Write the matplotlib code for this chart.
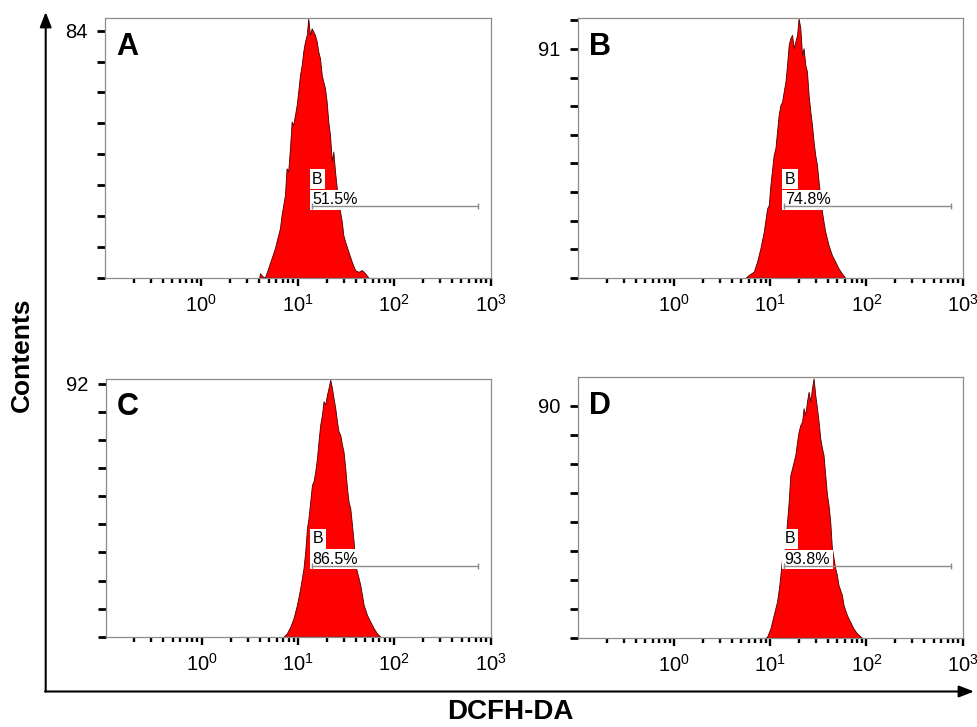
import numpy as np
import matplotlib
matplotlib.use('Agg')
import matplotlib.pyplot as plt
from matplotlib.ticker import FixedLocator, NullFormatter, FixedFormatter
import matplotlib.transforms as mtransforms

plt.rcParams['font.family'] = ['Liberation Sans', 'DejaVu Sans']
plt.rcParams['mathtext.fontset'] = 'custom'
plt.rcParams['mathtext.rm'] = 'Liberation Sans'
plt.rcParams['mathtext.it'] = 'Liberation Sans:italic'
plt.rcParams['mathtext.bf'] = 'Liberation Sans:bold'

# ---------------- data ----------------
panel_letters = ['A', 'B', 'C', 'D']
gate_name = 'B'
gate_pct = ['51.5%', '74.8%', '86.5%', '93.8%']
gate_range = [14, 750]
y_label_max = [84, 91, 92, 90]
y_divisions = [8, 8, 9, 8]
y_top = [88.2, 103.2, 93.8, 101.0]
x_tick_values = [1, 10, 100, 1000]
x_tick_labels = [r'$\mathregular{10^{0}}$', r'$\mathregular{10^{1}}$',
                 r'$\mathregular{10^{2}}$', r'$\mathregular{10^{3}}$']
x_label = 'DCFH-DA'
y_label = 'Contents'

# log10 fluorescence and event counts
logfl_A = [0.600, 0.607, 0.641, 0.659, 0.693, 0.728, 0.763, 0.780, 0.815, 0.832, 0.867, 0.884,
           0.901, 0.919, 0.937, 0.953, 0.971, 0.989, 1.005, 1.023, 1.041, 1.057, 1.075, 1.093,
           1.109, 1.127, 1.145, 1.161, 1.179, 1.197, 1.213, 1.231, 1.249, 1.265, 1.283, 1.300,
           1.317, 1.335, 1.353, 1.369, 1.387, 1.405, 1.439, 1.457, 1.473, 1.491, 1.526, 1.561,
           1.595, 1.630, 1.665, 1.699, 1.734]
count_A = [0.0, 1.5, 0.3, 0.0, 3.2, 6.6, 10.0, 12.3, 16.8, 21.3, 28.1, 37.2,
           36.1, 44.0, 53.1, 51.9, 55.3, 58.7, 63.3, 68.9, 72.3, 76.9, 80.3, 82.5,
           88.2, 82.5, 84.8, 83.7, 82.5, 80.3, 76.9, 74.6, 68.9, 66.7, 64.4, 59.9,
           53.1, 48.5, 39.5, 42.9, 36.1, 30.4, 22.5, 19.1, 14.5, 12.3, 8.8, 5.4,
           2.6, 2.0, 2.6, 1.5, 0.0]

logfl_B = [0.743, 0.777, 0.829, 0.864, 0.898, 0.933, 0.968, 0.985, 1.002, 1.036, 1.054, 1.071,
           1.088, 1.106, 1.123, 1.140, 1.158, 1.175, 1.192, 1.209, 1.227, 1.244, 1.261, 1.279,
           1.295, 1.313, 1.331, 1.347, 1.365, 1.382, 1.399, 1.417, 1.434, 1.451, 1.468, 1.486,
           1.503, 1.538, 1.554, 1.572, 1.606, 1.641, 1.676, 1.710, 1.745, 1.779]
count_B = [0.0, 1.1, 2.4, 6.4, 11.7, 18.3, 27.6, 28.9, 36.9, 48.8, 51.5, 58.1,
           64.8, 68.7, 70.0, 74.0, 78.0, 84.6, 92.6, 95.3, 96.6, 91.3, 93.9, 96.6,
           103.2, 99.3, 88.6, 91.3, 84.6, 82.0, 72.7, 66.1, 60.8, 54.1, 48.8, 44.9,
           38.2, 26.3, 22.3, 18.3, 13.0, 9.0, 6.4, 3.7, 1.7, 0.0]

logfl_C = [0.849, 0.884, 0.919, 0.953, 0.989, 1.023, 1.057, 1.075, 1.093, 1.109, 1.127, 1.145,
           1.161, 1.179, 1.197, 1.213, 1.231, 1.249, 1.265, 1.283, 1.301, 1.317, 1.335, 1.353,
           1.369, 1.387, 1.405, 1.421, 1.439, 1.457, 1.473, 1.491, 1.509, 1.525, 1.543, 1.561,
           1.578, 1.595, 1.630, 1.647, 1.665, 1.682, 1.717, 1.751, 1.786, 1.821, 1.855]
count_C = [0.0, 1.2, 3.6, 6.7, 11.6, 17.6, 24.9, 31.0, 39.5, 43.2, 49.2, 55.3,
           56.5, 60.1, 65.0, 71.1, 77.2, 80.8, 85.7, 84.5, 88.1, 90.5, 93.6, 90.5,
           86.9, 83.3, 78.4, 74.7, 73.5, 69.9, 67.4, 61.4, 54.1, 49.2, 46.8, 40.7,
           34.6, 26.1, 21.3, 18.8, 15.2, 11.6, 7.9, 5.5, 3.1, 1.2, 0.0]

logfl_D = [0.950, 0.968, 1.002, 1.036, 1.071, 1.095, 1.116, 1.123, 1.140, 1.158, 1.175, 1.192,
           1.209, 1.227, 1.244, 1.261, 1.279, 1.295, 1.313, 1.331, 1.347, 1.365, 1.382, 1.399,
           1.417, 1.434, 1.451, 1.468, 1.486, 1.503, 1.520, 1.538, 1.554, 1.572, 1.590, 1.606,
           1.624, 1.641, 1.676, 1.693, 1.710, 1.745, 1.762, 1.797, 1.831, 1.865, 1.901, 1.952]
count_D = [0.0, 0.4, 3.6, 8.8, 14.0, 20.4, 28.2, 30.8, 29.5, 37.2, 45.0, 52.8,
           63.1, 65.7, 68.3, 70.9, 76.0, 79.9, 82.5, 83.8, 89.0, 86.4, 91.6, 95.4,
           91.6, 96.8, 100.6, 94.2, 89.0, 83.8, 77.4, 73.5, 70.9, 63.1, 55.4, 51.5,
           45.0, 34.7, 26.9, 24.3, 20.4, 16.6, 12.7, 8.8, 6.2, 3.6, 1.7, 0.0]

logfl_all = [logfl_A, logfl_B, logfl_C, logfl_D]
count_all = [count_A, count_B, count_C, count_D]

# ---------------- figure ----------------
W, H = 977, 727
fig = plt.figure(figsize=(W / 100, H / 100), dpi=100)

# pixel boxes (left, top, right, bottom)
boxes = [(105.0, 18.3, 490.5, 277.7),
         (577.7, 18.3, 962.7, 277.7),
         (105.5, 379.0, 490.5, 636.7),
         (577.7, 377.3, 962.7, 637.7)]

minor_locs = [k * 10.0 ** d for d in (-1, 0, 1, 2) for k in range(2, 10)]

for i in range(4):
    l, t, r, b = boxes[i]
    ax = fig.add_axes([l / W, 1 - b / H, (r - l) / W, (b - t) / H])
    ax.set_xscale('log')
    ax.set_xlim(0.1, 1000)
    ax.set_ylim(0, y_top[i])

    x = 10 ** np.array(logfl_all[i])
    y = np.array(count_all[i])
    ax.fill_between(x, y, 0, facecolor='#ff0000', edgecolor='#4a0000',
                    linewidth=0.6, zorder=2)

    # axes styling
    for sp in ax.spines.values():
        sp.set_color('#8c8c8c')
        sp.set_linewidth(0.9)
    ax.xaxis.set_major_locator(FixedLocator(x_tick_values))
    ax.xaxis.set_major_formatter(FixedFormatter(x_tick_labels))
    ax.xaxis.set_minor_locator(FixedLocator(minor_locs))
    ax.xaxis.set_minor_formatter(NullFormatter())
    ax.tick_params(axis='x', which='major', direction='out', length=5.8, width=1.7,
                   color='black', labelsize=14.5, pad=6.0)
    ax.tick_params(axis='x', which='minor', direction='out', length=3.4, width=1.7,
                   color='black')

    step = y_label_max[i] / y_divisions[i]
    n_ticks = int(np.floor(y_top[i] / step + 1e-6)) + 1
    yt = [k * step for k in range(n_ticks)]
    ylabels = ['' for _ in yt]
    ylabels[y_divisions[i]] = str(y_label_max[i])
    ax.set_yticks(yt)
    ax.set_yticklabels(ylabels)
    ax.tick_params(axis='y', which='major', direction='out', length=5.8, width=2.0,
                   color='black', labelsize=14.5, pad=6.5)
    ax.tick_params(axis='y', which='minor', left=False)

    # panel letter
    ax.text(0.03, 0.86, panel_letters[i], transform=ax.transAxes, fontsize=22,
            fontweight='bold', ha='left', va='baseline', zorder=5)

    # gate marker
    trans = mtransforms.blended_transform_factory(ax.transData, ax.transAxes)
    ax.plot(gate_range, [0.275, 0.275], color='#8c8c8c', lw=1.0, transform=trans,
            zorder=6, marker='|', markersize=4, markeredgewidth=1.0)
    ax.text(gate_range[0] * 1.01, 0.362, gate_name, transform=trans, fontsize=11.5,
            ha='left', va='baseline', zorder=4,
            bbox=dict(boxstyle='square,pad=0.15', facecolor='white', edgecolor='none'))
    ax.text(gate_range[0] * 1.01, 0.283, gate_pct[i], transform=trans, fontsize=11.5,
            ha='left', va='baseline', zorder=4,
            bbox=dict(boxstyle='square,pad=0.15', facecolor='white', edgecolor='none'))

# outer axis arrows
ov = fig.add_axes([0, 0, 1, 1], facecolor='none')
ov.set_xlim(0, W)
ov.set_ylim(H, 0)
ov.axis('off')
ov.annotate('', xy=(45.7, 12), xytext=(45.7, 691.5),
            arrowprops=dict(arrowstyle='-|>,head_length=0.9,head_width=0.35',
                            lw=1.5, color='black', shrinkA=0, shrinkB=0))
ov.annotate('', xy=(974, 691.5), xytext=(45.0, 691.5),
            arrowprops=dict(arrowstyle='-|>,head_length=0.9,head_width=0.35',
                            lw=1.5, color='black', shrinkA=0, shrinkB=0))

fig.text(22 / W, 1 - 355 / H, y_label, rotation=90, fontsize=19, fontweight='bold',
         ha='center', va='center')
fig.text(510 / W, 1 - 712 / H, x_label, fontsize=20, fontweight='bold',
         ha='center', va='center')

fig.savefig('out.png', dpi=100)
